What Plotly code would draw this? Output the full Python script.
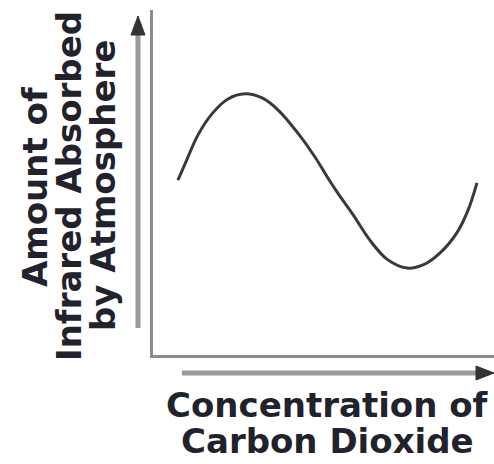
import plotly.graph_objects as go

# Relative CO2 concentration (x) and relative infrared absorption (y), arbitrary units 0-10
concentration = [0.73, 0.94, 1.32, 1.73, 2.20, 2.70, 3.20, 3.67, 4.25, 4.75, 5.13,
                 5.40, 5.87, 6.36, 6.86, 7.45, 7.92, 8.42, 8.91, 9.24, 9.50]
absorbed = [5.07, 5.54, 6.38, 6.99, 7.42, 7.57, 7.45, 7.10, 6.43, 5.74, 5.13,
            4.72, 4.06, 3.33, 2.78, 2.52, 2.61, 2.96, 3.54, 4.20, 4.99]

y_title_lines = ["Amount of", "Infrared Absorbed", "by Atmosphere"]
x_title_lines = ["Concentration of", "Carbon Dioxide"]

W, H = 494, 464
ML, MR, MT, MB = 153, 0, 10, 109
PW, PH = W - ML - MR, H - MT - MB


def px(xp):
    return (xp - ML) / PW


def py(yp):
    return (H - MB - yp) / PH


fig = go.Figure()
fig.add_trace(go.Scatter(
    x=concentration, y=absorbed, mode="lines",
    line=dict(color="#3a3a3a", width=3, shape="spline", smoothing=1.0),
    hoverinfo="skip", showlegend=False,
))

TEXT_FONT = dict(family="DejaVu Sans", size=34, color="#22222c", weight="bold")

annotations = []
for line, xc in zip(y_title_lines, [35, 69, 103]):
    annotations.append(dict(
        text=line, xref="paper", yref="paper", x=px(xc), y=py(186),
        xanchor="center", yanchor="middle", textangle=-90, showarrow=False,
        font=TEXT_FONT,
    ))
for line, yc in zip(x_title_lines, [405, 441]):
    annotations.append(dict(
        text=line, xref="paper", yref="paper", x=px(327), y=py(yc),
        xanchor="center", yanchor="middle", showarrow=False,
        font=TEXT_FONT,
    ))

shapes = []
SHAFT = "#9a9a9a"
HEAD = "#333333"
# vertical arrow beside the y axis
shapes.append(dict(type="line", xref="paper", yref="paper",
                   x0=px(138), x1=px(138), y0=py(328), y1=py(32),
                   line=dict(color=SHAFT, width=5)))
shapes.append(dict(type="path", xref="paper", yref="paper",
                   path=f"M {px(131)} {py(35)} L {px(138)} {py(16)} L {px(145)} {py(35)} Z",
                   fillcolor=HEAD, line=dict(color=HEAD, width=1)))
# horizontal arrow below the x axis
shapes.append(dict(type="line", xref="paper", yref="paper",
                   x0=px(182), x1=px(478), y0=py(373), y1=py(373),
                   line=dict(color=SHAFT, width=5)))
shapes.append(dict(type="path", xref="paper", yref="paper",
                   path=f"M {px(476)} {py(366)} L {px(494)} {py(373)} L {px(476)} {py(380)} Z",
                   fillcolor=HEAD, line=dict(color=HEAD, width=1)))

axis_common = dict(showgrid=False, zeroline=False, showticklabels=False, ticks="",
                   showline=True, linecolor="#8c8c8c", linewidth=3, fixedrange=True)

fig.update_layout(
    width=W, height=H,
    margin=dict(l=ML, r=MR, t=MT, b=MB),
    paper_bgcolor="white", plot_bgcolor="white",
    xaxis=dict(range=[0, 10], **axis_common),
    yaxis=dict(range=[0, 10], **axis_common),
    annotations=annotations, shapes=shapes,
)

fig.write_html("out.html", config={"displayModeBar": False})
